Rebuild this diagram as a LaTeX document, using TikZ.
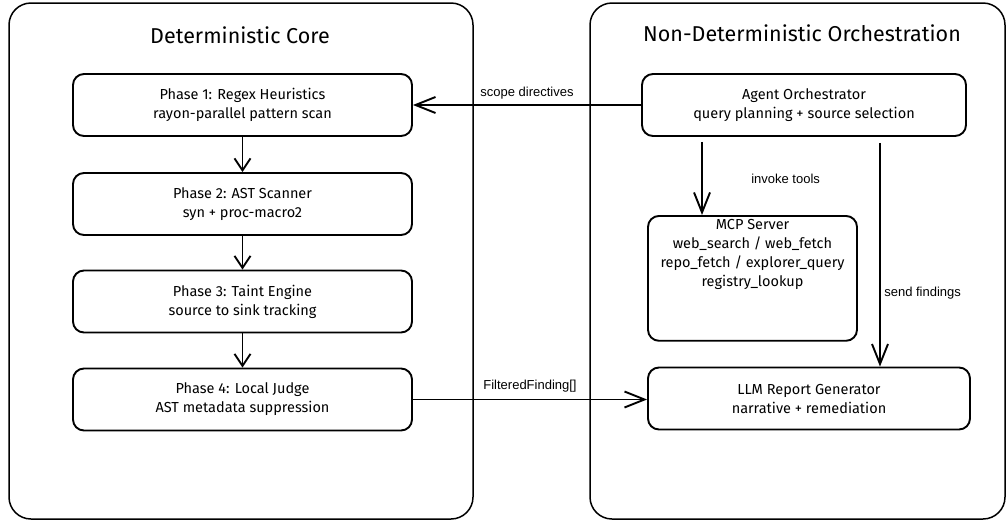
\documentclass[tikz,border=0pt]{standalone}
\usepackage{fontspec}
\setmainfont{Fira Sans}
\newfontfamily\tagfont{Liberation Sans}
\usetikzlibrary{arrows.meta,calc}
\tikzset{
	group/.style={draw, line width=1.5pt, rounded corners=22pt},
	heading/.style={font=\fontsize{21.5}{25}\selectfont},
	stage/.style={draw, line width=1.9pt, rounded corners=11pt, align=center,
			font=\fontsize{14.5}{19}\selectfont},
	flow/.style={line width=1.9pt, -{Straight Barb[length=20pt, width=16pt, line width=1.9pt]}},
	shortflow/.style={flow, -{Straight Barb[length=12pt, width=16pt, line width=1.9pt]}},
	tag/.style={font=\tagfont\fontsize{13}{15}\selectfont}
}

\begin{document}
\begin{tikzpicture}[x=1pt, y=-1pt]
        \useasboundingbox (0,0) rectangle (1008,523);
        \node[group, minimum width=464, minimum height=516] (core) at (241,261) {};
        \node[group, minimum width=415, minimum height=516] (orch) at (797.5,261) {};
        \node[heading] (coretitle) at (240,35) {Deterministic Core};
        \node[heading] (orchtitle) at (802,33) {Non-Deterministic Orchestration};

        \node[stage, minimum width=339, minimum height=62] (ph1) at (242.5,105) {Phase 1: Regex Heuristics\\rayon-parallel pattern scan};
        \node[stage, minimum width=339, minimum height=62] (ph2) at (242.5,204) {Phase 2: AST Scanner\\syn + proc-macro2};
        \node[stage, minimum width=339, minimum height=62] (ph3) at (242.5,301.5) {Phase 3: Taint Engine\\source to sink tracking};
        \node[stage, minimum width=339, minimum height=62] (ph4) at (242.5,399.5) {Phase 4: Local Judge\\AST metadata suppression};

        \node[stage, minimum width=324, minimum height=62] (agent) at (804,105) {Agent Orchestrator\\query planning + source selection};
        \node[stage, minimum width=209, minimum height=113, anchor=north] (mcp) at (752.5,215) {MCP Server\\web\_search / web\_fetch\\repo\_fetch / explorer\_query\\registry\_lookup\\[32pt]};
        \node[stage, minimum width=322, minimum height=62] (llm) at (809,398.5) {LLM Report Generator\\narrative + remediation};

        \coordinate (invoke) at (702,0);
        \coordinate (send) at (880,0);

        \draw[shortflow] (ph1) -- (ph2);
        \draw[shortflow] (ph2) -- (ph3);
        \draw[shortflow] (ph3) -- (ph4);
        \draw[flow] (agent.west) -- (agent.west -| ph1.east) node[tag, midway, above=2pt]{scope directives};
        \draw[flow] ([yshift=-5pt]agent.south -| invoke) -- (mcp.north -| invoke) node[tag, midway, right=45pt]{invoke tools};
        \draw[flow] ([yshift=-6pt]agent.south -| send) -- (llm.north -| send) node[tag, pos=0.67, right=0pt]{send findings};
        \draw[flow] (ph4.east) -- (ph4.east -| llm.west) node[tag, midway, above=3pt]{FilteredFinding[]};
    \end{tikzpicture}
\end{document}
